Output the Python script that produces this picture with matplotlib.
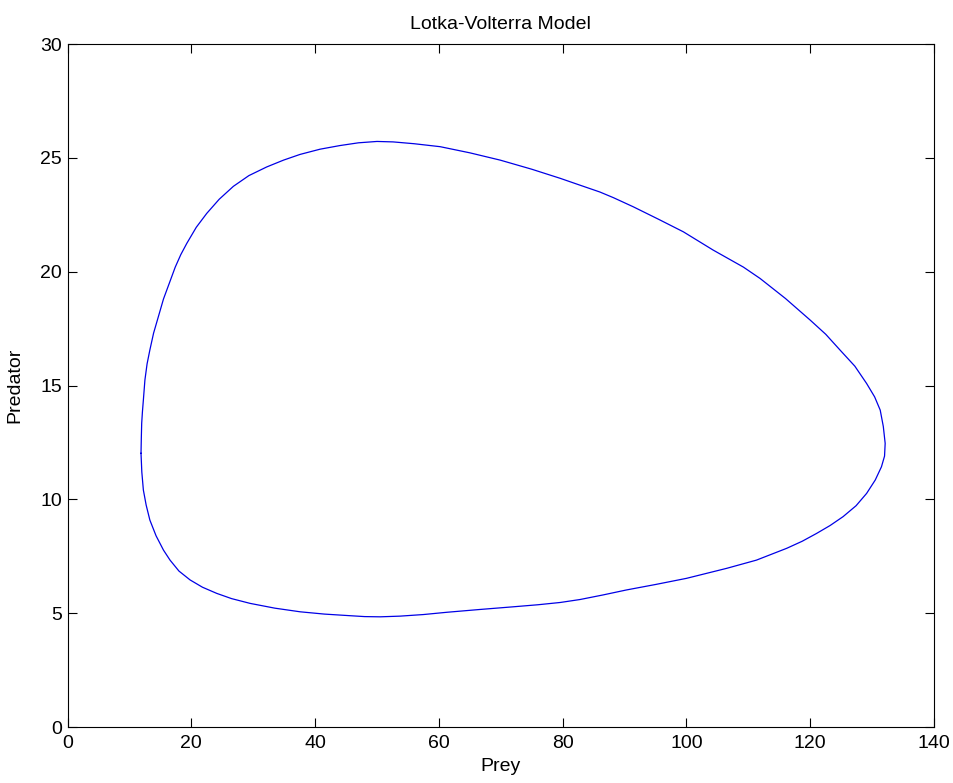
import matplotlib
matplotlib.use("Agg")
import matplotlib.pyplot as plt

# points, going round the closed orbit
prey = [11.87, 11.92, 11.98, 12.1, 12.25, 12.5, 12.85, 13.3, 13.9, 14.67,
        15.5, 16.56, 17.4, 18.3, 19.26, 20.8, 22.49, 24.5, 26.8, 29.3,
        32.18, 34.9, 37.56, 40.8, 44.02, 47.0, 50.0, 52.6, 56.0, 60.2,
        65.0, 69.9, 75.0, 79.6, 83.0, 86.0, 88.2, 91.4, 95.5, 99.5,
        104.3, 109.2, 111.9, 116.0, 120.0, 122.5, 124.8, 127.2, 129.1, 130.4,
        131.3, 131.8, 132.1, 132.0, 131.5, 130.5, 129.1, 127.4, 125.3, 123.2,
        121.0, 118.7, 116.2, 111.3, 106.5, 100.0, 95.0, 90.3, 86.5, 82.8,
        79.6, 76.0, 72.0, 66.5, 61.3, 57.5, 53.7, 50.5, 48.0, 45.6,
        41.5, 37.6, 33.5, 29.5, 26.5, 24.1, 21.8, 19.8, 18.0, 16.56,
        15.5, 14.3, 13.3, 12.7, 12.25, 12.0, 11.87]
predator = [12.02, 12.7, 13.34, 13.85, 14.36, 15.24, 15.95, 16.56, 17.3, 18.02,
            18.8, 19.58, 20.2, 20.75, 21.24, 21.95, 22.56, 23.18, 23.75, 24.22,
            24.6, 24.9, 25.15, 25.38, 25.54, 25.66, 25.72, 25.7, 25.62, 25.49,
            25.22, 24.9, 24.5, 24.1, 23.78, 23.5, 23.25, 22.85, 22.3, 21.75,
            20.95, 20.2, 19.7, 18.82, 17.87, 17.25, 16.56, 15.85, 15.09, 14.5,
            13.92, 13.2, 12.46, 11.9, 11.43, 10.85, 10.26, 9.72, 9.24, 8.85,
            8.5, 8.16, 7.85, 7.33, 6.97, 6.53, 6.26, 6.02, 5.8, 5.6,
            5.47, 5.37, 5.28, 5.16, 5.04, 4.94, 4.87, 4.84, 4.85, 4.89,
            4.96, 5.06, 5.22, 5.43, 5.64, 5.87, 6.14, 6.46, 6.85, 7.33,
            7.77, 8.4, 9.09, 9.75, 10.41, 11.2, 12.02]

plt.rcParams['font.family'] = ['Liberation Sans', 'DejaVu Sans']

fig = plt.figure(figsize=(9.54, 7.83), dpi=100)
ax = fig.add_axes([0.0708, 0.0715, 0.9083, 0.8723])
ax.plot(prey, predator, color=(0, 0, 0.9), linewidth=0.9, solid_joinstyle='round')

ax.set_xlim(0, 140)
ax.set_ylim(0, 30)
ax.set_xticks(range(0, 141, 20))
ax.set_yticks(range(0, 31, 5))
ax.tick_params(direction='in', length=6.5, width=0.8, top=True, right=True,
               labelsize=14)
ax.tick_params(axis='x', pad=6)
ax.tick_params(axis='y', pad=4)
for s in ax.spines.values():
    s.set_linewidth(0.8)

ax.set_title("Lotka-Volterra Model", fontsize=14, pad=11)
ax.set_xlabel("Prey", fontsize=14, labelpad=4)
ax.set_ylabel("Predator", fontsize=14, labelpad=12)

plt.savefig("out.png", dpi=100)
